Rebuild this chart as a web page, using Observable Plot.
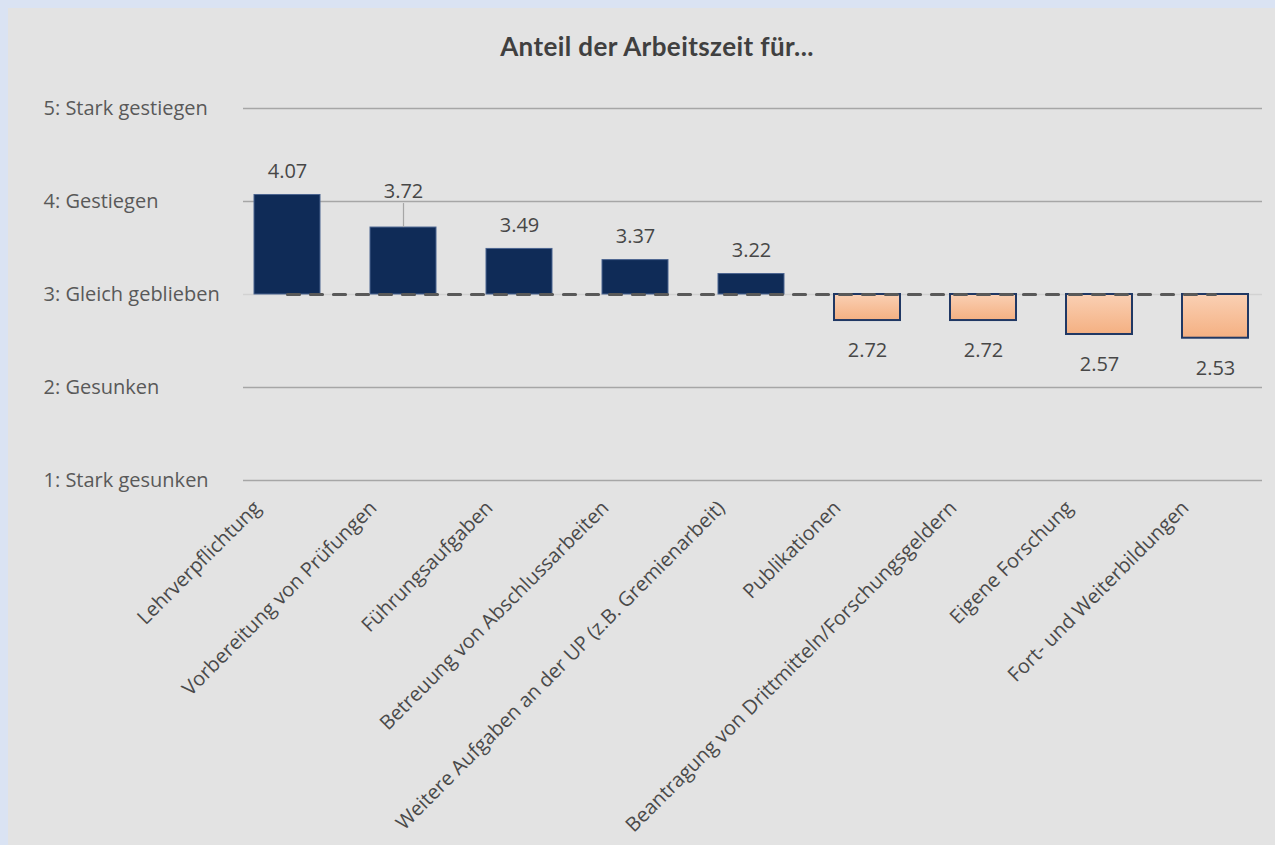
<!DOCTYPE html>
<html>
<head>
<meta charset="utf-8">
<script src="https://cdn.jsdelivr.net/npm/d3@7"></script>
<script src="https://cdn.jsdelivr.net/npm/@observablehq/plot@0.6"></script>
<style>
  html, body { margin: 0; padding: 0; background: #dae3f3; width: 1275px; height: 845px; overflow: hidden; }
  #panel { position: absolute; left: 8px; top: 8px; width: 1267px; height: 837px; background: #e3e3e3; }
  #title { position: absolute; left: 0; top: 22px; width: 1298px; text-align: center; font-family: Lato, "Open Sans", sans-serif; font-weight: bold; font-size: 26px; color: #404040; letter-spacing: 0.4px; }
  #chart { position: absolute; left: 0; top: 62px; }
</style>
</head>
<body>
<div id="panel">
  <div id="title">Anteil der Arbeitszeit für...</div>
  <div id="chart"></div>
</div>
<script>
const categories = [
  "Lehrverpflichtung",
  "Vorbereitung von Prüfungen",
  "Führungsaufgaben",
  "Betreuung von Abschlussarbeiten",
  "Weitere Aufgaben an der UP (z.B. Gremienarbeit)",
  "Publikationen",
  "Beantragung von Drittmitteln/Forschungsgeldern",
  "Eigene Forschung",
  "Fort- und Weiterbildungen"
];
const values = [4.07, 3.72, 3.49, 3.37, 3.22, 2.72, 2.72, 2.57, 2.53];
const yTicks = [1, 2, 3, 4, 5];
const yTickLabels = ["1: Stark gesunken", "2: Gesunken", "3: Gleich geblieben", "4: Gestiegen", "5: Stark gestiegen"];
const baseline = 3;

const data = categories.map((c, i) => ({cat: categories[i], value: values[i]}));
const up = data.filter(d => d.value >= baseline);
const down = data.filter(d => d.value < baseline);
const raised = up.filter(d => d.cat === "Vorbereitung von Prüfungen");
const normalUp = up.filter(d => d.cat !== "Vorbereitung von Prüfungen");

const gradientDefs = () => {
  const ns = "http://www.w3.org/2000/svg";
  const defs = document.createElementNS(ns, "defs");
  const lg = document.createElementNS(ns, "linearGradient");
  lg.setAttribute("id", "peach");
  lg.setAttribute("x1", "0"); lg.setAttribute("y1", "0");
  lg.setAttribute("x2", "0"); lg.setAttribute("y2", "1");
  [["0%", "#fad0b4"], ["100%", "#f4b082"]].forEach(([o, c]) => {
    const s = document.createElementNS(ns, "stop");
    s.setAttribute("offset", o); s.setAttribute("stop-color", c);
    lg.appendChild(s);
  });
  defs.appendChild(lg);
  return defs;
};

const fontFam = "'Open Sans', sans-serif";

const chart = Plot.plot({
  width: 1267,
  height: 775,
  marginLeft: 220,
  marginRight: 1,
  marginTop: 38,
  marginBottom: 365,
  style: {background: "transparent", fontFamily: fontFam, color: "#404040"},
  x: {domain: categories, paddingInner: 0.4325, paddingOuter: 0.216, label: null},
  y: {domain: [1, 5], label: null},
  marks: [
    gradientDefs,
    Plot.ruleY(yTicks.filter(t => t !== baseline), {stroke: "#a6a6a6", strokeWidth: 1.5, insetLeft: 15, insetRight: 12}),
    Plot.ruleY([baseline], {stroke: "#d2d2d2", strokeWidth: 1.5, insetLeft: 15, insetRight: 12}),
    Plot.barY(up, {x: "cat", y1: baseline, y2: "value", fill: "#0f2b57", stroke: "#4b6490", strokeWidth: 1}),
    Plot.barY(down, {x: "cat", y1: baseline, y2: "value", fill: "url(#peach)", stroke: "#203864", strokeWidth: 2}),
    Plot.lineY([data[0], data[data.length - 1]], {x: "cat", y: () => baseline, stroke: "#595959", strokeWidth: 3.2, strokeDasharray: "12,11"}),
    Plot.text(normalUp, {x: "cat", y: "value", text: d => d.value.toFixed(2), dy: -23, fontSize: 20, fill: "#474747"}),
    Plot.text(raised, {x: "cat", y: "value", text: d => d.value.toFixed(2), dy: -36, fontSize: 20, fill: "#474747"}),
    Plot.ruleX(raised, {x: "cat", y1: "value", y2: "value", insetTop: -24, stroke: "#a6a6a6", strokeWidth: 1.2}),
    Plot.text(down, {x: "cat", y: "value", text: d => d.value.toFixed(2), dy: 30, fontSize: 20, fill: "#474747"}),
    Plot.axisY(yTicks, {tickSize: 0, tickPadding: 0, textAnchor: "start", dx: -185, fontSize: 20, fill: "#595959", tickFormat: d => yTickLabels[yTicks.indexOf(d)]}),
    Plot.axisX({tickSize: 0, tickPadding: 24, tickRotate: -45, dx: -30, fontSize: 20, fill: "#4a4a4a", label: null})
  ]
});
document.getElementById("chart").appendChild(chart);
</script>
</body>
</html>
